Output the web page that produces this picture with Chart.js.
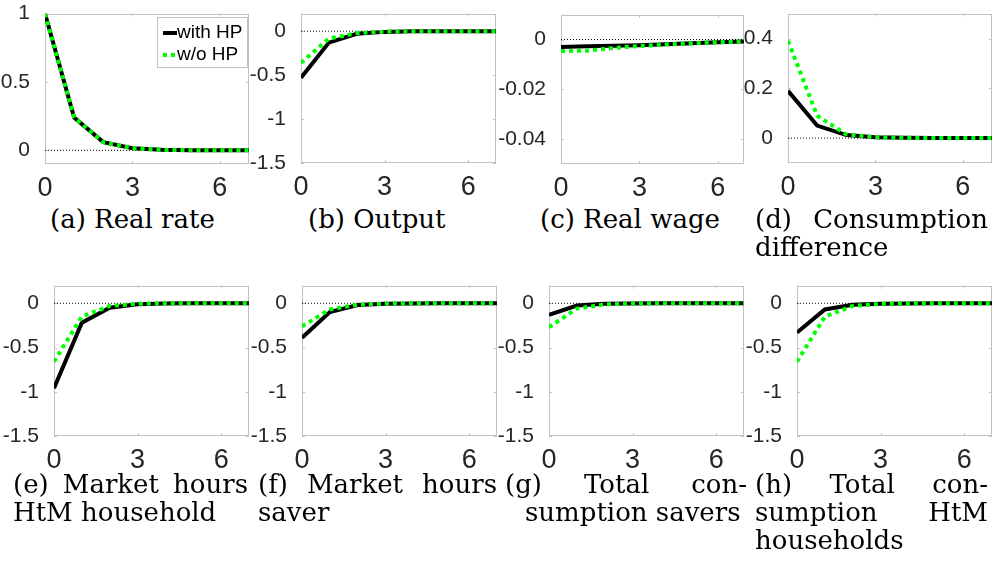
<!DOCTYPE html>
<html>
<head>
<meta charset="utf-8">
<script src="https://cdn.jsdelivr.net/npm/chart.js@4.4.1/dist/chart.umd.min.js"></script>
<style>
  html, body { margin: 0; padding: 0; background: #fff; }
  #page { position: relative; width: 995px; height: 571px; overflow: hidden; }
  canvas { position: absolute; }
  .cap { position: absolute; font-family: 'DejaVu Serif', serif; font-size: 26px; line-height: 28px; color: #000; white-space: nowrap; }
  .cap .just { display: flex; justify-content: space-between; }
</style>
</head>
<body>
<div id="page"></div>
<script>
const periods = [0, 1, 2, 3, 4, 5, 6, 7]
const xTicks = [0, 3, 6]
const zeroLine = [0, 0, 0, 0, 0, 0, 0, 0]

// (a) real rate
const realRateHP = [1, 0.24, 0.06, 0.015, 0.004, 0.001, 0.0003, 0.0001]
const realRateNoHP = [1, 0.24, 0.06, 0.015, 0.004, 0.001, 0.0003, 0.0001]
// (b) output
const outputHP = [-0.53, -0.13, -0.03, -0.008, -0.002, 0, 0, 0]
const outputNoHP = [-0.36, -0.085, -0.022, -0.005, -0.001, 0, 0, 0]
// (c) real wage
const wageHP = [-0.003, -0.0027, -0.0025, -0.0023, -0.0019, -0.0015, -0.0011, -0.0008]
const wageNoHP = [-0.0046, -0.0045, -0.0034, -0.0026, -0.002, -0.0015, -0.0011, -0.0008]
// (d) consumption difference
const consDiffHP = [0.19, 0.05, 0.012, 0.003, 0.001, 0, 0, 0]
const consDiffNoHP = [0.39, 0.09, 0.015, 0.003, 0.001, 0, 0, 0]
// (e) market hours HtM
const hoursHtmHP = [-0.96, -0.22, -0.05, -0.01, -0.002, 0, 0, 0]
const hoursHtmNoHP = [-0.66, -0.15, -0.03, -0.006, -0.001, 0, 0, 0]
// (f) market hours saver
const hoursSaverHP = [-0.39, -0.1, -0.02, -0.004, -0.001, 0, 0, 0]
const hoursSaverNoHP = [-0.26, -0.07, -0.015, -0.003, 0, 0, 0, 0]
// (g) total consumption savers
const consSaverHP = [-0.13, -0.025, -0.005, -0.001, 0, 0, 0, 0]
const consSaverNoHP = [-0.27, -0.06, -0.012, -0.002, 0, 0, 0, 0]
// (h) total consumption HtM
const consHtmHP = [-0.33, -0.07, -0.017, -0.004, -0.001, 0, 0, 0]
const consHtmNoHP = [-0.66, -0.15, -0.03, -0.006, -0.001, 0, 0, 0]

const ticksRate = [0, 0.5, 1]
const ticksLevel = [-1.5, -1, -0.5, 0]
const ticksWage = [-0.04, -0.02, 0]
const ticksDiff = [0, 0.2, 0.4]

const limitsRate = [-0.1, 1]
const limitsLevel = [-1.5, 0.2]
const limitsWage = [-0.05, 0.01]
const limitsDiff = [-0.1, 0.5]

const page = document.getElementById('page')

const panels = [
  {hp: realRateHP, noHp: realRateNoHP, ticks: ticksRate, lim: limitsRate, area: [45, 10, 249, 164], legend: true},
  {hp: outputHP, noHp: outputNoHP, ticks: ticksLevel, lim: limitsLevel, area: [301, 10, 496, 163]},
  {hp: wageHP, noHp: wageNoHP, ticks: ticksWage, lim: limitsWage, area: [561, 11, 744, 164]},
  {hp: consDiffHP, noHp: consDiffNoHP, ticks: ticksDiff, lim: limitsDiff, area: [788, 10, 992, 163]},
  {hp: hoursHtmHP, noHp: hoursHtmNoHP, ticks: ticksLevel, lim: limitsLevel, area: [54, 282, 249, 436]},
  {hp: hoursSaverHP, noHp: hoursSaverNoHP, ticks: ticksLevel, lim: limitsLevel, area: [302, 282, 497, 436]},
  {hp: consSaverHP, noHp: consSaverNoHP, ticks: ticksLevel, lim: limitsLevel, area: [549, 282, 744, 436]},
  {hp: consHtmHP, noHp: consHtmNoHP, ticks: ticksLevel, lim: limitsLevel, area: [797, 282, 992, 436]}
]

const captions = [
  {left: 50, top: 205, lines: [{t: '(a) Real rate'}]},
  {left: 308, top: 205, lines: [{t: '(b) Output'}]},
  {left: 540, top: 205, lines: [{t: '(c) Real wage'}]},
  {left: 755, top: 205, width: 233, lines: [{t: '(d) Consumption', j: true}, {t: 'difference'}]},
  {left: 13, top: 470, width: 235, lines: [{t: '(e) Market hours', j: true}, {t: 'HtM household'}]},
  {left: 258, top: 470, width: 239, lines: [{t: '(f) Market hours', j: true}, {t: 'saver'}]},
  {left: 505, top: 470, width: 242, lines: [{t: '(g) Total con-', j: true}, {t: 'sumption savers', dx: 20}]},
  {left: 755, top: 470, width: 233, lines: [{t: '(h) Total con-', j: true}, {t: 'sumption HtM', j: true}, {t: 'households'}]}
]

const toPoints = (values) => periods.map((p, i) => ({x: p, y: values[i]}))

// box round the axes with the small ticks pointing inwards
const boxTicks = {
  id: 'boxTicks',
  beforeDatasetsDraw(chart) {
    const {ctx, chartArea: a, scales: {x, y}} = chart
    ctx.save()
    ctx.strokeStyle = '#c2c2c2'
    ctx.lineWidth = 1
    ctx.strokeRect(Math.round(a.left) + 0.5, Math.round(a.top) + 0.5, Math.round(a.right - a.left) - 1, Math.round(a.bottom - a.top) - 1)
    ctx.beginPath()
    x.ticks.forEach(t => {
      const px = Math.round(x.getPixelForValue(t.value)) + 0.5
      ctx.moveTo(px, a.bottom); ctx.lineTo(px, a.bottom - 3)
      ctx.moveTo(px, a.top); ctx.lineTo(px, a.top + 3)
    })
    y.ticks.forEach(t => {
      const py = Math.round(y.getPixelForValue(t.value)) + 0.5
      ctx.moveTo(a.left, py); ctx.lineTo(a.left + 3, py)
      ctx.moveTo(a.right, py); ctx.lineTo(a.right - 3, py)
    })
    ctx.stroke()
    ctx.restore()
  }
}

const hpLegend = {
  id: 'hpLegend',
  afterDraw(chart, args, opts) {
    if (!opts.show) return
    const {ctx, chartArea: a} = chart
    const w = 90, h = 50
    const x0 = Math.round(a.right - w - 2), y0 = Math.round(a.top + 3)
    ctx.save()
    ctx.fillStyle = '#fff'
    ctx.fillRect(x0, y0, w, h)
    ctx.strokeStyle = '#c2c2c2'
    ctx.lineWidth = 1
    ctx.strokeRect(x0 + 0.5, y0 + 0.5, w, h)
    const items = chart.data.datasets.filter(d => d.label)
    items.forEach((d, i) => {
      const yy = y0 + 16 + i * 22
      ctx.beginPath()
      ctx.setLineDash(d.borderDash || [])
      ctx.lineWidth = d.borderWidth
      ctx.strokeStyle = d.borderColor
      ctx.moveTo(x0 + 6, yy)
      ctx.lineTo(x0 + 20, yy)
      ctx.stroke()
      ctx.setLineDash([])
      ctx.fillStyle = '#000'
      ctx.font = '19px "Liberation Sans"'
      ctx.textBaseline = 'middle'
      ctx.fillText(d.label, x0 + 20, yy)
    })
    ctx.restore()
  }
}

const makePanel = (p) => {
  const [left, top, right, bottom] = p.area
  const yW = 75, padTop = 16, xH = 34, padRight = 3
  const canvas = document.createElement('canvas')
  canvas.width = yW + (right - left) + padRight
  canvas.height = padTop + (bottom - top) + xH
  canvas.style.left = (left - yW) + 'px'
  canvas.style.top = (top - padTop) + 'px'
  page.appendChild(canvas)

  new Chart(canvas, {
    type: 'line',
    data: {
      datasets: [
        {label: 'with HP', data: toPoints(p.hp), borderColor: '#000', borderWidth: 4, pointRadius: 0, tension: 0, order: 1},
        {label: 'w/o HP', data: toPoints(p.noHp), borderColor: '#00ff00', borderWidth: 4, borderDash: [4, 4], borderCapStyle: 'butt', pointRadius: 0, tension: 0, order: 0},
        {label: '', data: toPoints(zeroLine), borderColor: '#000', borderWidth: 1, borderDash: [1, 2], pointRadius: 0, order: 2}
      ]
    },
    options: {
      responsive: false,
      animation: false,
      devicePixelRatio: 1,
      layout: {padding: {top: padTop, right: padRight, left: 0, bottom: 0}},
      plugins: {
        legend: {display: false},
        tooltip: {enabled: false},
        hpLegend: {show: !!p.legend}
      },
      scales: {
        x: {
          type: 'linear',
          min: 0,
          max: 7,
          afterBuildTicks: s => { s.ticks = xTicks.map(v => ({value: v})) },
          afterFit: s => { s.height = xH },
          grid: {display: false},
          border: {display: false},
          ticks: {padding: 0, color: '#262626', font: {family: 'Liberation Sans', size: 27}, maxRotation: 0, callback: v => String(v)}
        },
        y: {
          min: p.lim[0],
          max: p.lim[1],
          afterBuildTicks: s => { s.ticks = p.ticks.map(v => ({value: v})) },
          afterFit: s => { s.width = yW },
          grid: {display: false},
          border: {display: false},
          ticks: {padding: 7, color: '#262626', font: {family: 'Liberation Sans', size: 21}, callback: v => String(v)}
        }
      }
    },
    plugins: [boxTicks, hpLegend]
  })
}

const makeCaption = (c) => {
  const div = document.createElement('div')
  div.className = 'cap'
  div.style.left = c.left + 'px'
  div.style.top = c.top + 'px'
  c.lines.forEach(l => {
    const line = document.createElement('div')
    if (l.j) {
      line.className = 'just'
      line.style.width = c.width + 'px'
      l.t.split(' ').forEach(word => {
        const span = document.createElement('span')
        span.textContent = word
        line.appendChild(span)
      })
    } else {
      line.textContent = l.t
      if (l.dx) line.style.marginLeft = l.dx + 'px'
    }
    div.appendChild(line)
  })
  page.appendChild(div)
}

panels.forEach(makePanel)
captions.forEach(makeCaption)
</script>
</body>
</html>
